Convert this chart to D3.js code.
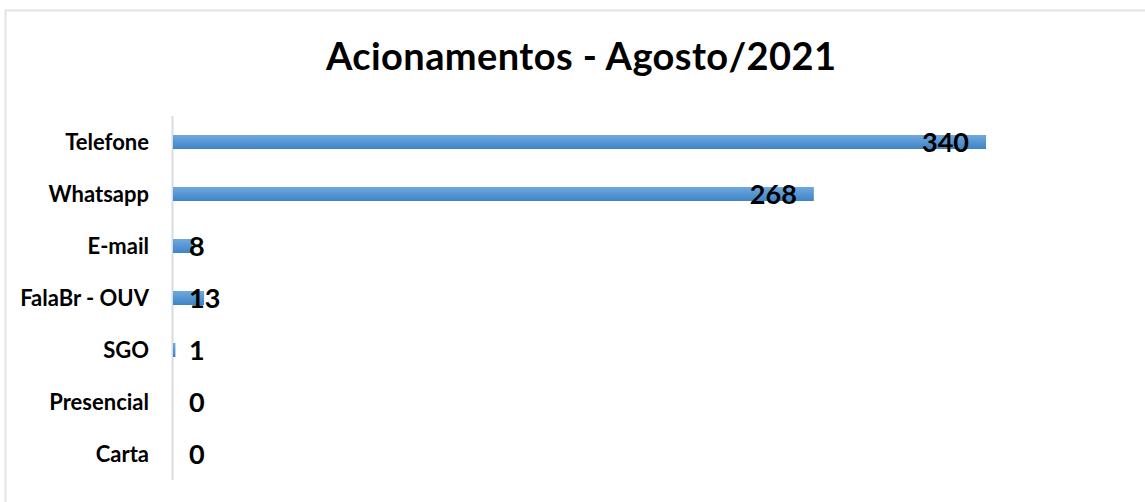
<!DOCTYPE html>
<html>
<head>
<meta charset="utf-8">
<script src="https://cdn.jsdelivr.net/npm/d3@7"></script>
<style>
  body { margin: 0; background: #fff; }
  svg { display: block; }
</style>
</head>
<body>
<svg id="chart"></svg>
<script>
var w = 1145,
    h = 502

var categories = ["Telefone", "Whatsapp", "E-mail", "FalaBr - OUV", "SGO", "Presencial", "Carta"]
var values = [340, 268, 8, 13, 1, 0, 0]
var title = "Acionamentos - Agosto/2021"

var svg = d3.select("#chart").attr("width", w).attr("height", h)

// gradient for the bars
var grad = svg.append("defs").append("linearGradient")
  .attr("id", "barGrad").attr("x1", 0).attr("y1", 0).attr("x2", 0).attr("y2", 1)
grad.append("stop").attr("offset", "0%").attr("stop-color", "#70a8df")
grad.append("stop").attr("offset", "100%").attr("stop-color", "#3e84c6")

// outer frame
svg.append("rect")
  .attr("x", 5.5).attr("y", 10.5)
  .attr("width", w + 20).attr("height", h + 20)
  .attr("fill", "none").attr("stroke", "#e2e3ea").attr("stroke-width", 2)

svg.append("text")
  .attr("x", 326).attr("y", 70)
  .attr("textLength", 510).attr("lengthAdjust", "spacing")
  .attr("font-family", "Lato, sans-serif").attr("font-weight", "bold")
  .attr("font-size", "38px").attr("fill", "#000")
  .text(title)

var x = d3.scaleLinear().domain([0, 340]).range([173, 986])
var y = d3.scaleBand().domain(categories).range([116, 480])

// axis line + category labels
svg.append("line")
  .attr("x1", 172.5).attr("x2", 172.5).attr("y1", 116).attr("y2", 480)
  .attr("stroke", "#d9dbe4").attr("stroke-width", 2)

svg.selectAll(".cat").data(categories).enter().append("text")
  .attr("class", "cat")
  .attr("x", 149)
  .attr("y", d => y(d) + y.bandwidth() / 2)
  .attr("dy", "0.36em")
  .attr("text-anchor", "end")
  .attr("font-family", "Lato, sans-serif").attr("font-weight", "bold")
  .attr("font-size", "22px").attr("fill", "#000")
  .text(d => d)

// bars
var barH = 14
svg.selectAll(".bar").data(values).enter().append("rect")
  .attr("class", "bar")
  .attr("x", x(0))
  .attr("y", (d, i) => y(categories[i]) + y.bandwidth() / 2 - barH / 2)
  .attr("width", d => x(d) - x(0))
  .attr("height", barH)
  .attr("fill", "url(#barGrad)")

// value labels: inside end, but never closer to the axis than minX
var minX = x(0) + 16
svg.selectAll(".val").data(values).enter().append("text")
  .attr("class", "val")
  .attr("y", (d, i) => y(categories[i]) + y.bandwidth() / 2 + 1)
  .attr("dy", "0.35em")
  .attr("font-family", "Lato, sans-serif").attr("font-weight", "bold")
  .attr("font-size", "27px").attr("fill", "#000")
  .text(d => d)
  .each(function(d) {
    var tw = this.getComputedTextLength()
    var start = Math.max(x(d) - 17 - tw, minX)
    d3.select(this).attr("x", start)
  })
</script>
</body>
</html>
